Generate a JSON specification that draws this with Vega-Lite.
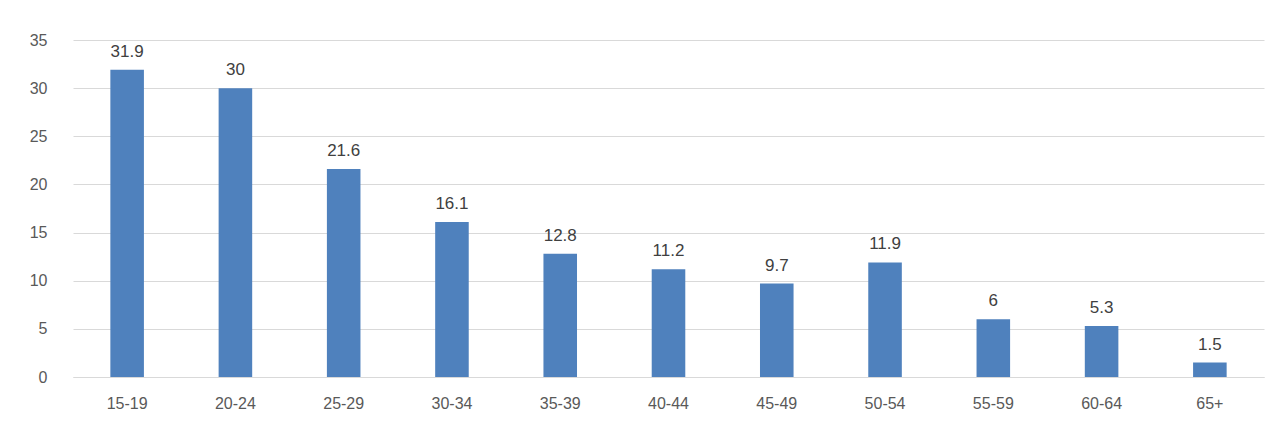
{
  "$schema": "https://vega.github.io/schema/vega-lite/v6.json",
  "autosize": "none",
  "width": 1191,
  "height": 337,
  "padding": {"left": 73, "top": 40, "right": 18, "bottom": 54},
  "background": "white",
  "config": {"view": {"stroke": null}, "font": "Liberation Sans"},
  "data": {"values": [
    {"age": "15-19", "v": 31.9}, {"age": "20-24", "v": 30}, {"age": "25-29", "v": 21.6},
    {"age": "30-34", "v": 16.1}, {"age": "35-39", "v": 12.8}, {"age": "40-44", "v": 11.2},
    {"age": "45-49", "v": 9.7}, {"age": "50-54", "v": 11.9}, {"age": "55-59", "v": 6},
    {"age": "60-64", "v": 5.3}, {"age": "65+", "v": 1.5}
  ]},
  "encoding": {
    "x": {"field": "age", "type": "nominal", "sort": null, "title": null,
      "scale": {"paddingInner": 0.69, "paddingOuter": 0.345},
      "axis": {"labelAngle": 0, "ticks": false, "domainColor": "#d9d9d9", "labelFontSize": 16, "labelColor": "#595959", "labelPadding": 18}},
    "y": {"field": "v", "type": "quantitative", "title": null,
      "scale": {"domain": [0, 35]},
      "axis": {"values": [0,5,10,15,20,25,30,35], "domain": false, "ticks": false, "gridColor": "#d9d9d9", "labelFontSize": 16, "labelColor": "#595959", "labelPadding": 26}}
  },
  "layer": [
    {"mark": {"type": "bar", "color": "#4f81bd"}},
    {"mark": {"type": "text", "dy": -18, "fontSize": 17, "color": "#404040"},
     "encoding": {"text": {"field": "v", "type": "quantitative"}}}
  ]
}
